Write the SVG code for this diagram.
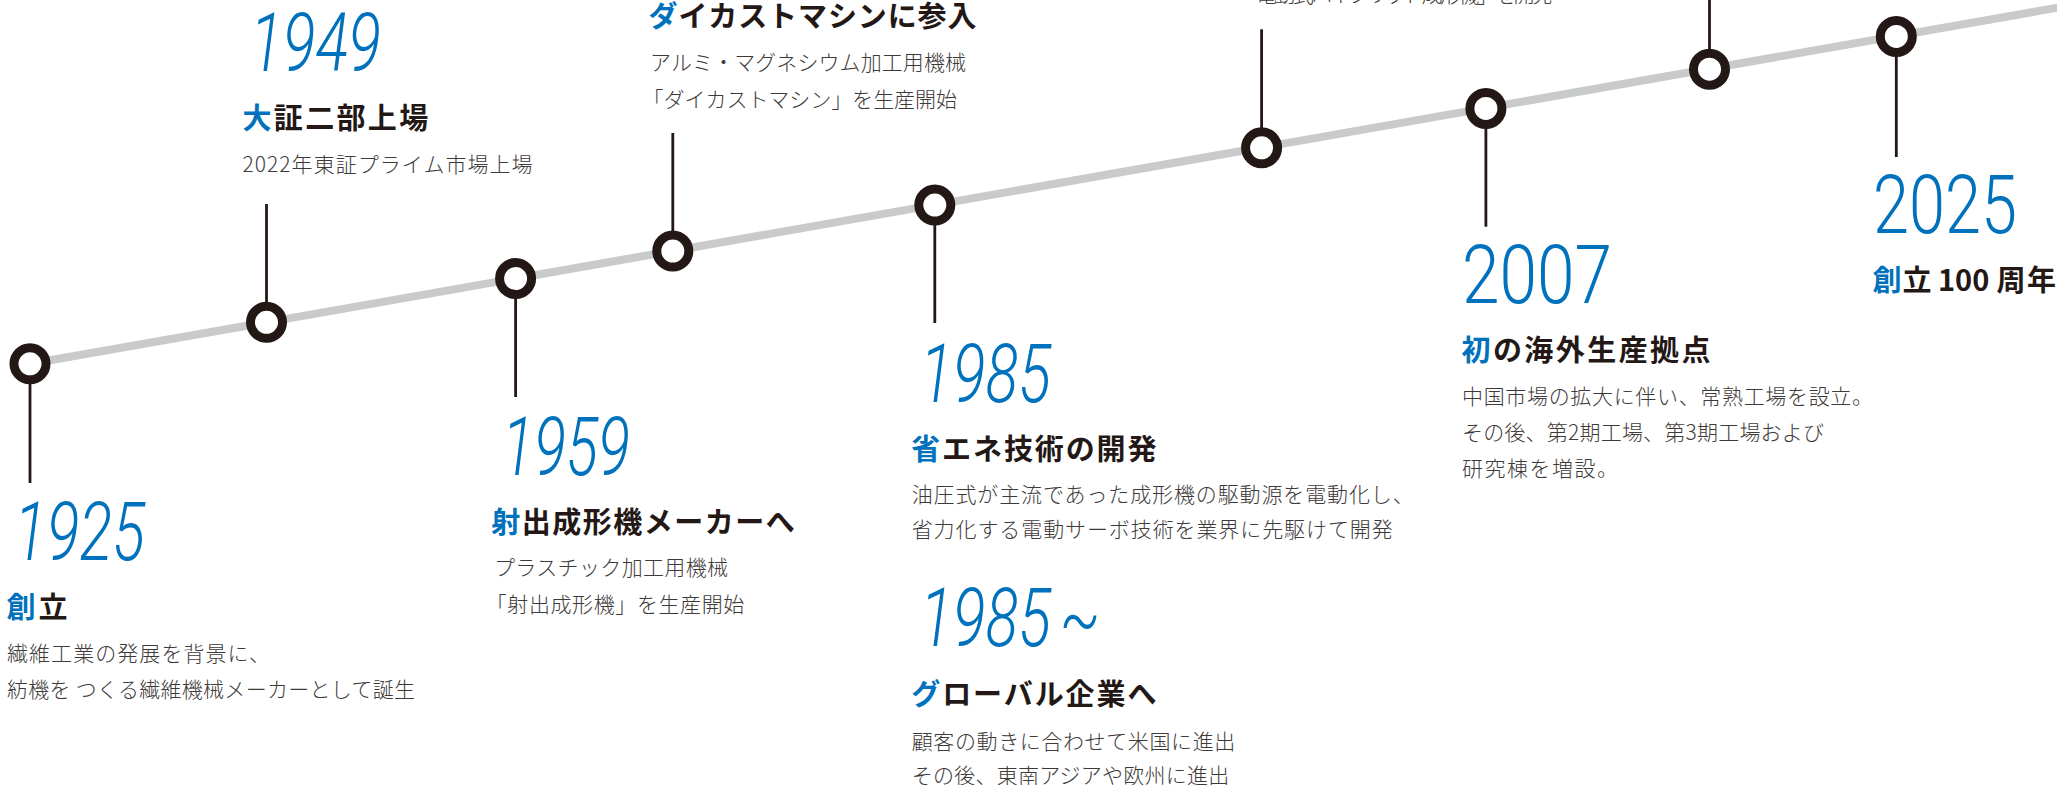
<svg xmlns="http://www.w3.org/2000/svg" width="2057" height="785" viewBox="0 0 2057 785">
<style>
.yr{font-family:Roboto,Lato,"Liberation Sans",sans-serif;font-weight:300;fill:#0071bc;font-size:82px}
.it{font-style:italic}
.hd{font-family:"Noto Sans CJK JP","Noto Sans CJK SC",sans-serif;font-weight:700;font-size:29px;fill:#231815}
.b{fill:#0071bc}
.ds{font-family:"Noto Sans CJK JP","Noto Sans CJK SC",sans-serif;font-weight:300;font-size:21px;fill:#3e3a39}
.node{fill:#fff;stroke:#231815;stroke-width:9}
.stem{stroke:#231815;stroke-width:2.8;fill:none}
.tl{stroke:#c9caca;stroke-width:8;fill:none}
</style>
<g id="connectors">
<line class="tl" x1="30" y1="363.8" x2="2070" y2="5.5"/>
<line class="stem" x1="30" y1="363.8" x2="30" y2="483"/>
<line class="stem" x1="266.5" y1="322.3" x2="266.5" y2="204"/>
<line class="stem" x1="515.6" y1="278.6" x2="515.6" y2="397"/>
<line class="stem" x1="672.8" y1="251.1" x2="672.8" y2="133"/>
<line class="stem" x1="934.8" y1="205.1" x2="934.8" y2="323"/>
<line class="stem" x1="1261.6" y1="147.8" x2="1261.6" y2="29.3"/>
<line class="stem" x1="1485.9" y1="108.4" x2="1485.9" y2="226.7"/>
<line class="stem" x1="1709.5" y1="69.2" x2="1709.5" y2="0"/>
<line class="stem" x1="1896.3" y1="36.4" x2="1896.3" y2="157"/>
</g>
<g id="n1925">
<circle class="node" cx="30" cy="363.8" r="16"/>
<text class="yr it" x="14" y="560" textLength="131" lengthAdjust="spacingAndGlyphs">1925</text>
<text class="hd" x="6.5" y="618" textLength="61"><tspan class="b">創</tspan>立</text>
<text class="ds" x="7" y="660.5" textLength="263">繊維工業の発展を背景に、</text>
<text class="ds" x="7" y="696.5" textLength="408">紡機を つくる繊維機械メーカーとして誕生</text>
</g>
<g id="n1949">
<circle class="node" cx="266.5" cy="322.3" r="16"/>
<text class="yr it" x="250" y="70.7" textLength="131" lengthAdjust="spacingAndGlyphs">1949</text>
<text class="hd" x="242.5" y="128.5" textLength="185.7"><tspan class="b">大</tspan>証二部上場</text>
<text class="ds" x="242.5" y="171.8" textLength="290">2022年東証プライム市場上場</text>
</g>
<g id="n1959">
<circle class="node" cx="515.6" cy="278.6" r="16"/>
<text class="yr it" x="502" y="475" textLength="128" lengthAdjust="spacingAndGlyphs">1959</text>
<text class="hd" x="491.2" y="533" textLength="303.6"><tspan class="b">射</tspan>出成形機メーカーへ</text>
<text class="ds" x="494" y="575" textLength="234">プラスチック加工用機械</text>
<text class="ds" x="485.7" y="612" textLength="258.6">「射出成形機」を生産開始</text>
</g>
<g id="n-diecast">
<circle class="node" cx="672.8" cy="251.1" r="16"/>
<text class="hd" x="648.5" y="27" textLength="328"><tspan class="b">ダ</tspan>イカストマシンに参入</text>
<text class="ds" x="650" y="70" textLength="316">アルミ・マグネシウム加工用機械</text>
<text class="ds" x="642.6" y="107" textLength="314.4">「ダイカストマシン」を生産開始</text>
</g>
<g id="n1985">
<circle class="node" cx="934.8" cy="205.1" r="16"/>
<text class="yr it" x="920" y="401.7" textLength="131" lengthAdjust="spacingAndGlyphs">1985</text>
<text class="hd" x="911.2" y="459.5" textLength="245.3"><tspan class="b">省</tspan>エネ技術の開発</text>
<text class="ds" x="911.7" y="501.8" textLength="502">油圧式が主流であった成形機の駆動源を電動化し、</text>
<text class="ds" x="911.7" y="537" textLength="481">省力化する電動サーボ技術を業界に先駆けて開発</text>
</g>
<g id="n1985-global">
<text class="yr it" x="920" y="646" textLength="131" lengthAdjust="spacingAndGlyphs">1985</text>
<text class="yr it" x="1060" y="646" textLength="40" lengthAdjust="spacingAndGlyphs">~</text>
<text class="hd" x="911.2" y="704.5" textLength="245.3"><tspan class="b">グ</tspan>ローバル企業へ</text>
<text class="ds" x="911.7" y="748.5" textLength="323.6">顧客の動きに合わせて米国に進出</text>
<text class="ds" x="911.7" y="782.5" textLength="317.6">その後、東南アジアや欧州に進出</text>
</g>
<g id="n-electric">
<circle class="node" cx="1261.6" cy="147.8" r="16"/>
<text class="ds" x="1256" y="2" textLength="297">電動式ハイブリッド成形機」を開発</text>
</g>
<g id="n2007">
<circle class="node" cx="1485.9" cy="108.4" r="16"/>
<text class="yr" x="1462" y="303.3" textLength="150" lengthAdjust="spacingAndGlyphs">2007</text>
<text class="hd" x="1461.5" y="361" textLength="249"><tspan class="b">初</tspan>の海外生産拠点</text>
<text class="ds" x="1462" y="403.5" textLength="411">中国市場の拡大に伴い、常熟工場を設立。</text>
<text class="ds" x="1462" y="440" textLength="362">その後、第2期工場、第3期工場および</text>
<text class="ds" x="1462" y="475.5" textLength="156">研究棟を増設。</text>
</g>
<g id="n-top">
<circle class="node" cx="1709.5" cy="69.2" r="16"/>
</g>
<g id="n2025">
<circle class="node" cx="1896.3" cy="36.4" r="16"/>
<text class="yr" x="1873" y="233.3" textLength="144" lengthAdjust="spacingAndGlyphs">2025</text>
<text class="hd" y="291"><tspan class="b" x="1872.5">創</tspan><tspan x="1902.5">立</tspan><tspan x="1938">100</tspan><tspan x="1996.5">周</tspan><tspan x="2027">年</tspan></text>
</g>
</svg>
